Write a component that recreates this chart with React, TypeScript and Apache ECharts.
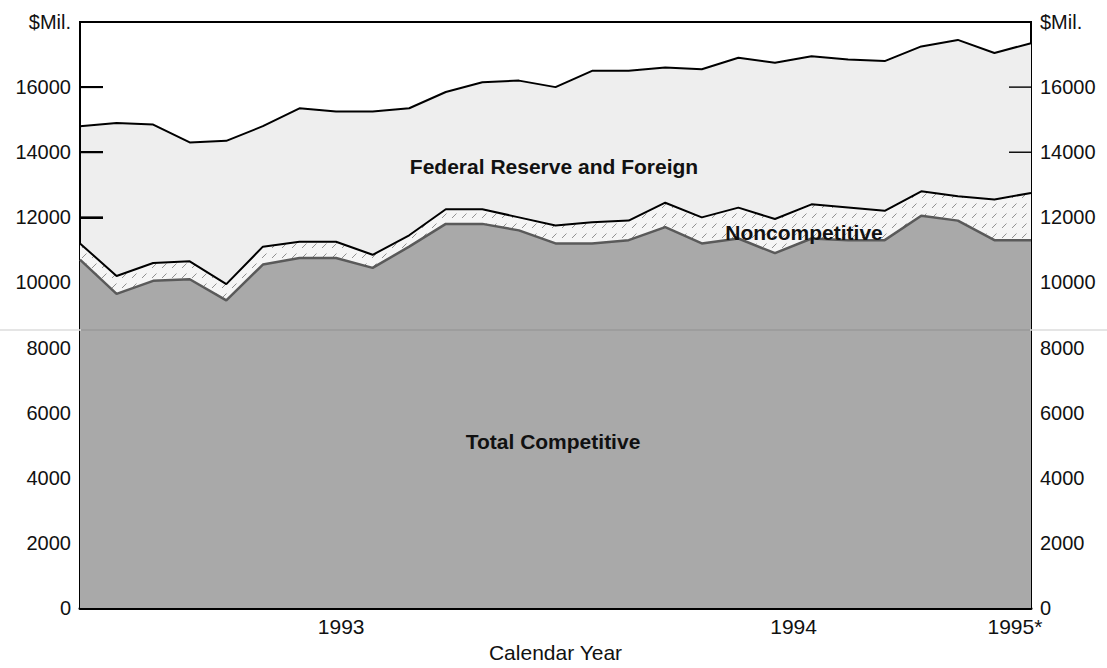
import React, { useEffect, useRef } from "react";
import * as echarts from "echarts";

// Period index (monthly observations, Jan 1993 -> early 1995)
const periods = ["0", "1", "2", "3", "4", "5", "6", "7", "8", "9", "10", "11", "12", "13", "14", "15", "16", "17", "18", "19", "20", "21", "22", "23", "24", "25", "26"];

// $ millions
const competitive = [10700, 9650, 10050, 10100, 9450, 10550, 10750, 10750, 10450, 11100, 11800, 11800, 11600, 11200, 11200, 11300, 11700, 11200, 11350, 10900, 11350, 11300, 11300, 12050, 11900, 11300, 11300];
const noncompetitive = [500, 550, 550, 550, 500, 550, 500, 500, 400, 350, 450, 450, 400, 550, 650, 600, 750, 800, 950, 1050, 1050, 1000, 900, 750, 750, 1250, 1450];
const fedForeign = [3600, 4700, 4250, 3650, 4400, 3700, 4100, 4000, 4400, 3900, 3600, 3900, 4200, 4250, 4650, 4600, 4150, 4550, 4600, 4800, 4550, 4550, 4600, 4450, 4800, 4500, 4600];

// x-axis marks (in period units)
const quarterTicks = [3.06, 6.14, 9.21, 15.34, 18.43, 21.46];
const yearTicks = [12.27, 24.55];
const yearLabelPos = [7.14, 19.51, 25.56];
const yearLabels = ["1993", "1994", "1995*"];

// y-axis ticks ($ millions)
const yTickValues = [0, 2000, 4000, 6000, 8000, 10000, 12000, 14000, 16000];
const yTop = 18000;
const yTopLabel = "$Mil.";

const FONT = "'Liberation Sans', Arial, Helvetica, sans-serif";

function makeHatch(): HTMLCanvasElement {
  const c = document.createElement("canvas");
  c.width = 10;
  c.height = 10;
  const ctx = c.getContext("2d")!;
  ctx.fillStyle = "#f5f5f5";
  ctx.fillRect(0, 0, 10, 10);
  ctx.strokeStyle = "rgba(80,80,80,0.6)";
  ctx.lineWidth = 1;
  ctx.beginPath();
  ctx.moveTo(2, 8);
  ctx.lineTo(6.5, 3.5);
  ctx.stroke();
  return c;
}

const textStyle = (text: string) => ({
  text,
  fontFamily: FONT,
  fontWeight: "bold",
  fontSize: 21,
  fill: "#111",
  align: "center",
  verticalAlign: "middle",
});

export default function App() {
  const ref = useRef<HTMLDivElement>(null);

  useEffect(() => {
    if (!ref.current) return;
    const chart = echarts.init(ref.current, undefined, { renderer: "svg" });
    const hatch = makeHatch();

    const yLabel = () => ({
      fontFamily: FONT,
      fontSize: 20,
      color: "#111",
      margin: 9,
      formatter: (v: number) => (v === yTop ? yTopLabel : String(v)),
    });

    chart.setOption({
      animation: false,
      backgroundColor: "#fff",
      grid: {
        left: 80,
        right: 76,
        top: 22,
        bottom: 48,
        show: true,
        borderColor: "#000",
        borderWidth: 2,
        backgroundColor: "transparent",
      },
      xAxis: [
        {
          type: "category",
          data: periods,
          boundaryGap: false,
          position: "bottom",
          axisLine: { show: true, lineStyle: { color: "#000", width: 3 } },
          axisTick: { show: false },
          axisLabel: { show: false },
          splitLine: { show: false },
        },
        {
          type: "value",
          min: 0,
          max: 26,
          position: "bottom",
          splitLine: { show: false },
          axisLine: { show: false },
          axisTick: {
            show: true,
            inside: true,
            length: 38,
            customValues: quarterTicks,
            lineStyle: { color: "#111", width: 2 },
          },
          axisLabel: {
            show: true,
            customValues: yearLabelPos,
            fontFamily: FONT,
            fontSize: 21,
            color: "#111",
            margin: 8,
            formatter: (v: number) => {
              let best = 0;
              for (let i = 1; i < yearLabelPos.length; i++) {
                if (Math.abs(yearLabelPos[i] - v) < Math.abs(yearLabelPos[best] - v)) best = i;
              }
              return yearLabels[best];
            },
          },
          name: "Calendar Year",
          nameLocation: "middle",
          nameGap: 29,
          nameTextStyle: { fontFamily: FONT, fontSize: 21, color: "#111" },
        },
        {
          type: "value",
          min: 0,
          max: 26,
          position: "bottom",
          splitLine: { show: false },
          axisLine: { show: false },
          axisLabel: { show: false },
          axisTick: {
            show: true,
            inside: true,
            length: 54,
            customValues: yearTicks,
            lineStyle: { color: "#111", width: 2 },
          },
        },
      ],
      yAxis: [
        {
          type: "value",
          position: "left",
          min: 0,
          max: yTop,
          interval: 2000,
          splitLine: { show: false },
          axisLine: { show: true, lineStyle: { color: "#000", width: 2 } },
          axisTick: { show: true, inside: true, length: 23, lineStyle: { color: "#000", width: 2 } },
          axisLabel: yLabel(),
        },
        {
          type: "value",
          position: "right",
          min: 0,
          max: yTop,
          interval: 2000,
          splitLine: { show: false },
          axisLine: { show: true, lineStyle: { color: "#000", width: 2 } },
          axisTick: { show: false },
          axisLabel: yLabel(),
        },
      ],
      series: [
        {
          name: "Total Competitive",
          type: "line",
          stack: "total",
          symbol: "none",
          xAxisIndex: 0,
          yAxisIndex: 0,
          data: competitive,
          lineStyle: { color: "#5a5a5a", width: 2.5 },
          areaStyle: { color: "#a9a9a9", opacity: 1 },
          z: 1,
        },
        {
          name: "Noncompetitive",
          type: "line",
          stack: "total",
          symbol: "none",
          xAxisIndex: 0,
          yAxisIndex: 0,
          data: noncompetitive,
          lineStyle: { color: "#000", width: 2 },
          areaStyle: { color: { image: hatch, repeat: "repeat" } as any, opacity: 1 },
          z: 1,
        },
        {
          name: "Federal Reserve and Foreign",
          type: "line",
          stack: "total",
          symbol: "none",
          xAxisIndex: 0,
          yAxisIndex: 0,
          data: fedForeign,
          lineStyle: { color: "#000", width: 2 },
          areaStyle: { color: "#eeeeee", opacity: 1 },
          z: 0,
        },
      ],
    });

    // Inward y-axis ticks drawn on both sides, placed through the axis scale
    const xRight = chart.convertToPixel({ xAxisIndex: 1 }, 26) as number;
    const xLeft = xRight - (chart.getWidth() - 80 - 76);
    const leftTicks: any[] = [];
    const rightTicks: any[] = [];
    yTickValues.forEach((v) => {
      const y = chart.convertToPixel({ yAxisIndex: 1 }, v) as number;
      leftTicks.push({
        type: "rect",
        shape: { x: xLeft, y: y - 1, width: 23, height: 2 },
        style: { fill: "#000" },
      });
      rightTicks.push({
        type: "line",
        shape: { x1: xRight - 22, y1: y, x2: xRight, y2: y },
        style: { stroke: "#111", lineWidth: 1.5 },
      });
    });

    chart.setOption({
      graphic: [
        {
          type: "line",
          z: 5,
          shape: { x1: 0, y1: 330, x2: 1107, y2: 330 },
          style: { stroke: "#dcdcdc", lineWidth: 1.5 },
        },
        {
          type: "line",
          z: 6,
          shape: { x1: 81, y1: 330, x2: 1030, y2: 330 },
          style: { stroke: "#8c8c8c", lineWidth: 1.5 },
        },
        { type: "group", z: 100, children: leftTicks },
        { type: "group", z: 100, children: rightTicks },
        { type: "text", z: 10, x: 554, y: 166, style: textStyle("Federal Reserve and Foreign") },
        { type: "text", z: 10, x: 804, y: 232, style: textStyle("Noncompetitive") },
        { type: "text", z: 10, x: 553, y: 441, style: textStyle("Total Competitive") },
      ],
    });

    return () => chart.dispose();
  }, []);

  return (
    <div
      ref={ref}
      style={{ position: "absolute", left: 0, top: 0, width: 1107, height: 668, background: "#fff" }}
    />
  );
}
